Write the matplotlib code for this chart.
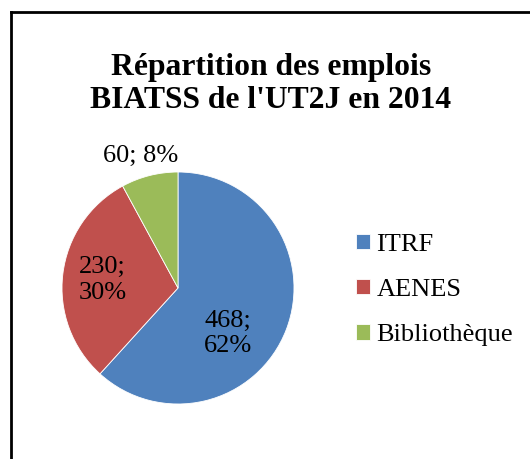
import matplotlib
matplotlib.use("Agg")
import matplotlib.pyplot as plt
from matplotlib.lines import Line2D

categories = ["ITRF", "AENES", "Bibliothèque"]
values = [468, 230, 60]
percents = ["62%", "30%", "8%"]
colors = ["#4F81BD", "#C0504D", "#9BBB59"]
title = "Répartition des emplois\nBIATSS de l'UT2J en 2014"

W, H = 530, 459
fig = plt.figure(figsize=(W / 100, H / 100), dpi=100)
fig.patch.set_facecolor("white")
serif = ["Liberation Serif", "DejaVu Serif"]

# pie axes: center (178, 288) px, radius 116 px
cx, cy, r = 178, 288, 116
ax = fig.add_axes([(cx - r) / W, (H - cy - r) / H, 2 * r / W, 2 * r / H])
wedges, _ = ax.pie(values, colors=colors, startangle=90, counterclock=False,
                   wedgeprops=dict(edgecolor="white", linewidth=0.6))
ax.set_xlim(-1, 1)
ax.set_ylim(-1, 1)
ax.set_aspect("equal")
ax.axis("off")

# data labels (positions in radius units)
label_pos = [(0.43, -0.39), (-0.65, 0.07), (-0.32, 1.14)]
label_txt = [f"{values[0]};\n{percents[0]}", f"{values[1]};\n{percents[1]}",
             f"{values[2]}; {percents[2]}"]
for (x, y), t in zip(label_pos, label_txt):
    ax.text(x, y, t, ha="center", va="center", fontsize=19, family=serif,
            linespacing=1.2, color="black")

# title
fig.text(271 / W, 1 - 53 / H, title, ha="center", va="top", fontsize=22.8,
         fontweight="bold", family=serif, linespacing=1.18)

# legend
leg = fig.legend(wedges, categories, loc="center left",
                 bbox_to_anchor=(356 / W, (H - 290) / H),
                 frameon=False, borderpad=0, borderaxespad=0,
                 handlelength=0.53, handleheight=0.53, handletextpad=0.25,
                 labelspacing=0.88, prop=dict(family=serif, size=19))

# outer frame (top and left visible)
lw = 2.0
fig.add_artist(Line2D([11 / W, 1.0], [1 - 12 / H, 1 - 12 / H], color="black",
                      linewidth=lw, transform=fig.transFigure))
fig.add_artist(Line2D([11 / W, 11 / W], [1 - 12 / H, 0.0], color="black",
                      linewidth=lw, transform=fig.transFigure))

fig.savefig("out.png", dpi=100, facecolor="white")
